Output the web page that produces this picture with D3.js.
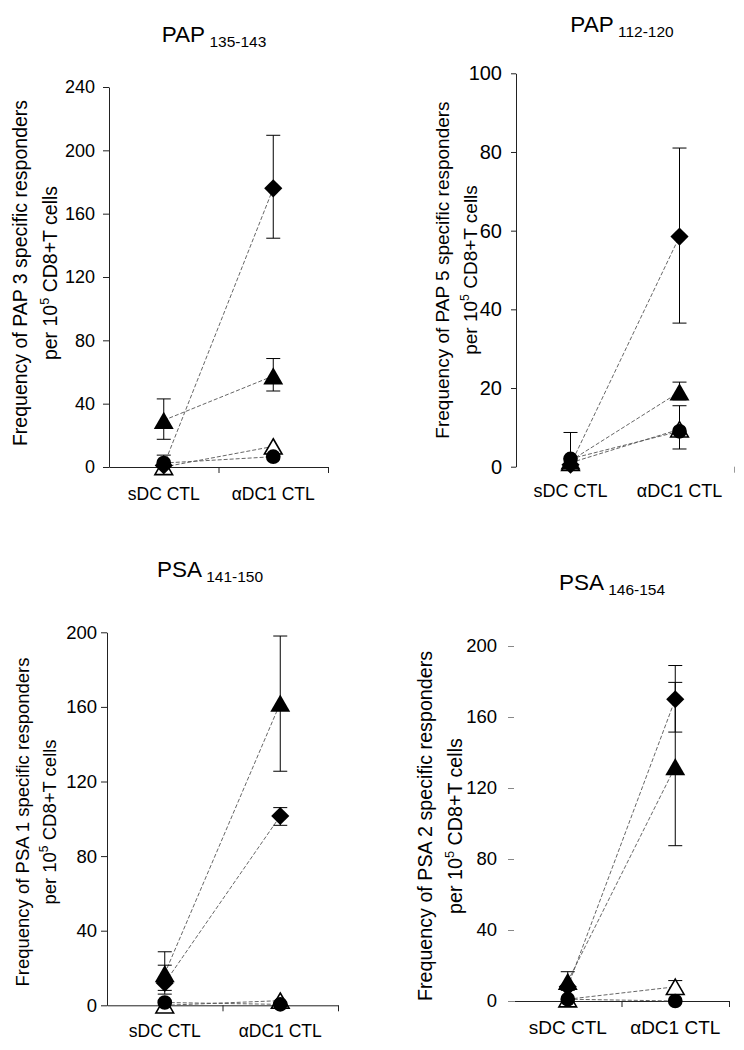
<!DOCTYPE html>
<html><head><meta charset="utf-8">
<script src="https://cdn.jsdelivr.net/npm/d3@7"></script>
<style>
body{margin:0;background:#fff}
svg{display:block}
text{font-family:"Liberation Sans",Arial,sans-serif;fill:#000}
</style>
</head><body>
<svg id="c" width="744" height="1050"></svg>
<script>
// ---------- DATA ----------
const categories = ["sDC CTL", "αDC1 CTL"];
const panelTitles = [["PAP", "135-143"], ["PAP", "112-120"], ["PSA", "141-150"], ["PSA", "146-154"]];
const yTitles = [
  "Frequency of PAP 3 specific responders",
  "Frequency of PAP 5 specific responders",
  "Frequency of PSA 1 specific responders",
  "Frequency of PSA 2 specific responders"
];
const yTitleLine2 = ["per 10", "5", " CD8+T cells"];
const yMaxes = [240, 100, 200, 200];
const yTickSteps = [40, 20, 40, 40];

// values per panel: [sDC CTL, αDC1 CTL]
const diamondValues      = [[1, 176], [0.5, 58.5], [12, 101.5], [8, 170]];
const triangleValues     = [[29.5, 57.5], [1.5, 19], [17, 162], [11, 132]];
const openTriangleValues = [[0, 13], [1, 9.5], [0, 2.5], [1, 8]];
const circleValues       = [[2.5, 6.5], [2, 9], [1.5, 0.5], [1, 0]];

// error ranges [low, high] per category (null = none shown)
const diamondErrors      = [[null, [144.5, 209.5]], [null, [36.5, 81]], [[8, 21.5], [96.5, 106]], [null, [151.5, 189]]];
const triangleErrors     = [[[17.5, 43], [48, 68.5]], [null, [17, 21.5]], [[6, 28.7], [125.5, 198]], [[6, 16.5], [87.5, 179.5]]];
const openTriangleErrors = [[null, null], [null, null], [null, null], [null, [5, 11.5]]];
const circleErrors       = [[[0, 7.5], null], [[0, 8.7], [4.5, 15.5]], [null, null], [null, null]];

// ---------- LAYOUT ----------
const layouts = [
  {x0:109, x1:328, yTop:87,   yBot:467,    yAxisLine:true,  xAxisLine:true,  xTicks:[1,2], tickSize:6, tickPad:8,  tickFont:18,   tickColor:"#222",
   catFont:17.5, catY:500,  yt:{a:20,  b:50,  cy:273, font:19.5}, title:{cx:214, y:42}},
  {x0:516, x1:734, yTop:73.3, yBot:466.7,  yAxisLine:true,  xAxisLine:false, xTicks:[2],   tickSize:5, tickPad:9,  tickFont:20,   tickColor:"#222",
   catFont:18,   catY:497,  yt:{a:442, b:470, cy:270, font:19},   title:{cx:622, y:32}},
  {x0:107, x1:338, yTop:632.3,yBot:1005.3, yAxisLine:true,  xAxisLine:true,  xTicks:[1,2], tickSize:6, tickPad:4,  tickFont:18.5, tickColor:"#222",
   catFont:17.5, catY:1037, yt:{a:23,  b:50,  cy:822, font:18.5}, title:{cx:210, y:577}},
  {x0:514, x1:729, yTop:646,  yBot:1001,   yAxisLine:false, xAxisLine:true,  xTicks:[1,2], tickSize:6, tickPad:11, tickFont:18.5, tickColor:"#888",
   catFont:19,   catY:1034, yt:{a:425, b:455, cy:826, font:19.7}, title:{cx:612, y:590}}
];

const svg = d3.select("#c");

const triSize = 172, openTriSize = 135, sqSize = 165, circSize = 170;
const triY = Math.sqrt(triSize / (Math.sqrt(3) * 3));
const otriY = Math.sqrt(openTriSize / (Math.sqrt(3) * 3));

const seriesDefs = [
  {vals: openTriangleValues, errs: openTriangleErrors, kind: "openTri"},
  {vals: diamondValues,      errs: diamondErrors,      kind: "diamond"},
  {vals: triangleValues,     errs: triangleErrors,     kind: "tri"},
  {vals: circleValues,       errs: circleErrors,       kind: "circle"}
];

layouts.forEach((L, p) => {
  const g = svg.append("g");
  const x = d3.scaleBand().domain(categories).range([L.x0, L.x1]);
  const cx = c => x(c) + x.bandwidth() / 2;
  const xb = d3.scaleLinear().domain([0, 2]).range([L.x0, L.x1]);
  const y = d3.scaleLinear().domain([0, yMaxes[p]]).range([L.yBot, L.yTop]);

  // y axis
  const ya = g.append("g").attr("transform", `translate(${L.x0},0)`)
    .call(d3.axisLeft(y).tickValues(d3.range(0, yMaxes[p] + 1, yTickSteps[p]))
      .tickSize(L.tickSize).tickSizeOuter(0).tickPadding(L.tickPad));
  ya.attr("font-family", null).attr("font-size", null);
  ya.selectAll("text").attr("font-size", L.tickFont).attr("fill", "#000");
  ya.selectAll(".tick line").attr("stroke", L.tickColor);
  ya.select(".domain").attr("stroke", L.yAxisLine ? "#222" : "none");

  // x axis (boundary ticks)
  const xa = g.append("g").attr("transform", `translate(0,${L.yBot})`)
    .call(d3.axisBottom(xb).tickValues(L.xTicks).tickFormat("").tickSize(6).tickSizeOuter(0));
  xa.select(".domain").attr("stroke", L.xAxisLine ? "#222" : "none");
  xa.selectAll(".tick line").attr("stroke", L.xAxisLine ? "#222" : "#999");

  // category labels
  g.selectAll(".cat").data(categories).join("text")
    .attr("x", d => cx(d)).attr("y", L.catY)
    .attr("text-anchor", "middle").attr("font-size", L.catFont).text(d => d);

  // title
  const t = g.append("text").attr("x", L.title.cx).attr("y", L.title.y).attr("text-anchor", "middle");
  t.append("tspan").attr("font-size", 22.5).text(panelTitles[p][0]);
  t.append("tspan").attr("font-size", 15.5).attr("dy", 5).text(" " + panelTitles[p][1]);

  // y titles
  g.append("text").attr("transform", `translate(${L.yt.a},${L.yt.cy}) rotate(-90)`)
    .attr("text-anchor", "middle").attr("dy", "0.35em").attr("font-size", L.yt.font).text(yTitles[p]);
  const t2 = g.append("text").attr("transform", `translate(${L.yt.b},${L.yt.cy}) rotate(-90)`)
    .attr("text-anchor", "middle").attr("dy", "0.35em").attr("font-size", L.yt.font);
  t2.append("tspan").text(yTitleLine2[0]);
  t2.append("tspan").attr("font-size", L.yt.font * 0.65).attr("dy", -8).text(yTitleLine2[1]);
  t2.append("tspan").attr("dy", 8).text(yTitleLine2[2]);

  // connecting dashed lines
  const line = d3.line();
  seriesDefs.forEach(s => {
    const v = s.vals[p];
    g.append("path")
      .attr("d", line(categories.map((c, i) => [cx(c), y(v[i])])))
      .attr("fill", "none").attr("stroke", "#555").attr("stroke-width", 0.9)
      .attr("stroke-dasharray", "4,2");
  });

  // error bars
  seriesDefs.forEach(s => {
    s.errs[p].forEach((e, i) => {
      if (!e) return;
      const xc = cx(categories[i]);
      const eg = g.append("g").attr("stroke", "#000").attr("stroke-width", 1);
      eg.append("line").attr("x1", xc).attr("x2", xc).attr("y1", y(e[0])).attr("y2", y(e[1]));
      eg.append("line").attr("x1", xc - 7).attr("x2", xc + 7).attr("y1", y(e[0])).attr("y2", y(e[0]));
      eg.append("line").attr("x1", xc - 7).attr("x2", xc + 7).attr("y1", y(e[1])).attr("y2", y(e[1]));
    });
  });

  // markers
  seriesDefs.forEach(s => {
    const v = s.vals[p];
    categories.forEach((c, i) => {
      const px = cx(c), py = y(v[i]);
      if (s.kind === "tri") {
        g.append("path").attr("d", d3.symbol(d3.symbolTriangle, triSize)())
          .attr("transform", `translate(${px},${py + triY / 2})`).attr("fill", "#000");
      } else if (s.kind === "openTri") {
        g.append("path").attr("d", d3.symbol(d3.symbolTriangle, openTriSize)())
          .attr("transform", `translate(${px},${py + otriY / 2})`)
          .attr("fill", "#fff").attr("stroke", "#000").attr("stroke-width", 1.6);
      } else if (s.kind === "diamond") {
        g.append("path").attr("d", d3.symbol(d3.symbolSquare, sqSize)())
          .attr("transform", `translate(${px},${py}) rotate(45)`).attr("fill", "#000");
      } else {
        g.append("path").attr("d", d3.symbol(d3.symbolCircle, circSize)())
          .attr("transform", `translate(${px},${py})`).attr("fill", "#000");
      }
    });
  });
});
</script>
</body></html>
